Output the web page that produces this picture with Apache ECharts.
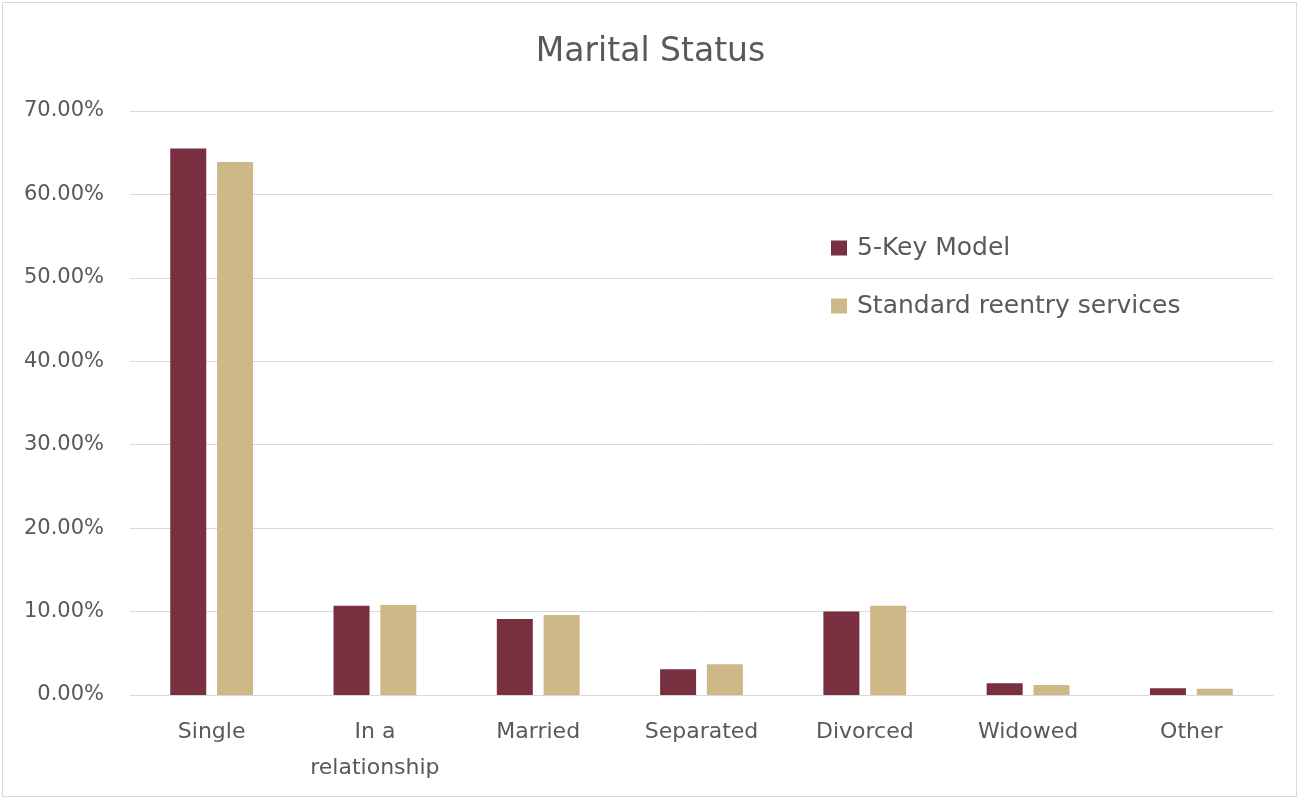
<!DOCTYPE html>
<html>
<head>
<meta charset="utf-8">
<script src="https://cdn.jsdelivr.net/npm/echarts@6/dist/echarts.min.js"></script>
<style>
html,body{margin:0;padding:0;background:#fff;}
#wrap{position:absolute;left:2px;top:2px;width:1295px;height:795px;border:1px solid #d9d9d9;box-sizing:border-box;}
#chart{position:absolute;left:0;top:0;width:1301px;height:801px;}
</style>
</head>
<body>
<div id="wrap"></div>
<div id="chart"></div>
<script>
const categories = ['Single', 'In a\nrelationship', 'Married', 'Separated', 'Divorced', 'Widowed', 'Other'];
const fiveKey = [65.5, 10.7, 9.1, 3.1, 10.0, 1.4, 0.8];
const standard = [63.9, 10.8, 9.6, 3.7, 10.7, 1.2, 0.75];
const seriesNames = ['5-Key Model', 'Standard reentry services'];
const colors = ['#782F40', '#CEB888'];

const font = '"DejaVu Sans", sans-serif';
const chart = echarts.init(document.getElementById('chart'));
chart.setOption({
  animation: false,
  title: {
    text: 'Marital Status', left: 'center', top: 31,
    textStyle: {fontFamily: font, fontSize: 33, fontWeight: 'normal', color: '#595959'}
  },
  legend: {
    orient: 'vertical', left: 826, top: 230, itemGap: 32,
    itemWidth: 16, itemHeight: 15, icon: 'rect',
    textStyle: {fontFamily: font, fontSize: 25, lineHeight: 26, color: '#595959', padding: [0,0,0,5]},
    data: seriesNames
  },
  grid: {left: 130, right: 28, top: 111, bottom: 106},
  xAxis: {
    type: 'category', data: categories,
    axisLine: {lineStyle: {color: '#d9d9d9', width: 1}},
    axisTick: {show: false},
    axisLabel: {fontFamily: font, fontSize: 22, color: '#595959', margin: 19, lineHeight: 36, interval: 0}
  },
  yAxis: {
    type: 'value', min: 0, max: 70, interval: 10,
    axisLine: {show: false}, axisTick: {show: false},
    splitLine: {lineStyle: {color: '#d9d9d9', width: 1}},
    axisLabel: {fontFamily: font, fontSize: 21, color: '#595959', margin: 26,
      formatter: v => v.toFixed(2) + '%'}
  },
  series: [
    {name: seriesNames[0], type: 'bar', data: fiveKey, barWidth: 36, barGap: '30%',
      itemStyle: {color: colors[0]}},
    {name: seriesNames[1], type: 'bar', data: standard, barWidth: 36, barGap: '30%',
      itemStyle: {color: colors[1]}}
  ]
});
</script>
</body>
</html>
